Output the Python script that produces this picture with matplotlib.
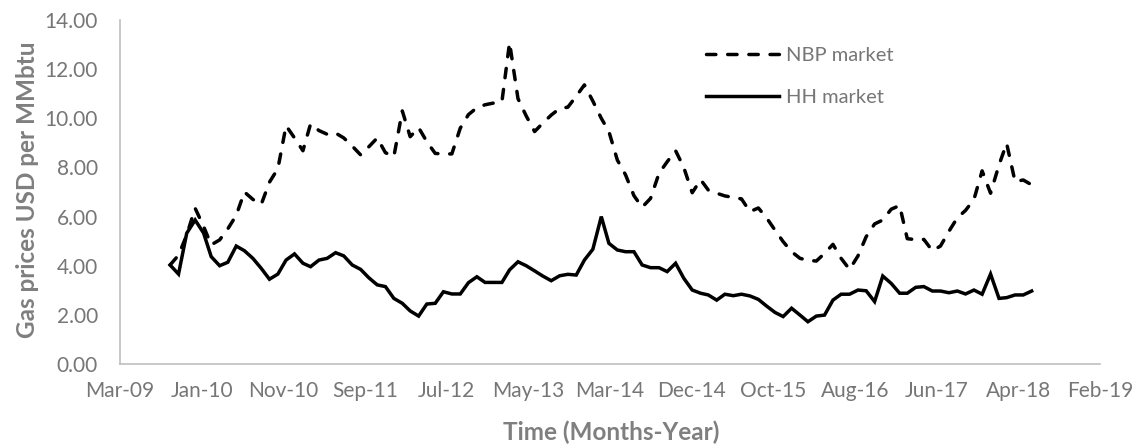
import numpy as np
import pandas as pd
import matplotlib
matplotlib.use('Agg')
import matplotlib.pyplot as plt
import matplotlib.dates as mdates

plt.rcParams['font.family'] = ['Lato', 'DejaVu Sans']

# monthly prices, Oct 2009 - Jun 2018 (USD per MMbtu)
months = pd.date_range('2009-10-01', periods=105, freq='MS')

nbp = [4.03, 4.43, 5.25, 6.34, 5.6, 4.85, 5.05, 5.5, 6.05, 7.0,
       6.7, 6.5, 7.4, 7.95, 9.7, 9.2, 8.68, 9.77, 9.5, 9.35,
       9.4, 9.2, 8.87, 8.51, 8.84, 9.2, 8.6, 8.44, 10.3, 9.25,
       9.62, 9.05, 8.57, 8.55, 8.55, 9.6, 10.15, 10.43, 10.55, 10.62,
       10.68, 13.08, 10.8, 10.1, 9.46, 9.8, 10.13, 10.4, 10.45, 10.9,
       11.36, 10.7, 10.0, 9.46, 8.3, 7.7, 6.85, 6.38, 6.74, 7.76,
       8.23, 8.68, 8.0, 6.97, 7.5, 7.08, 6.95, 6.84, 6.78, 6.72,
       6.2, 6.35, 5.95, 5.45, 4.98, 4.57, 4.3, 4.22, 4.19, 4.5,
       4.87, 4.3, 3.85, 4.4, 5.18, 5.7, 5.86, 6.3, 6.45, 5.1,
       5.06, 5.07, 4.61, 4.8, 5.4, 5.95, 6.25, 6.7, 7.86, 6.95,
       8.1, 8.98, 7.42, 7.49, 7.29]

hh = [4.03, 3.66, 5.32, 5.86, 5.33, 4.37, 4.0, 4.14, 4.8, 4.61,
      4.3, 3.89, 3.45, 3.66, 4.23, 4.48, 4.1, 3.96, 4.23, 4.3,
      4.53, 4.4, 4.03, 3.85, 3.51, 3.22, 3.15, 2.67, 2.47, 2.16,
      1.95, 2.44, 2.47, 2.94, 2.85, 2.85, 3.31, 3.55, 3.32, 3.32,
      3.32, 3.83, 4.16, 4.0, 3.79, 3.58, 3.39, 3.59, 3.65, 3.62,
      4.23, 4.67, 6.0, 4.91, 4.64, 4.57, 4.57, 4.03, 3.92, 3.92,
      3.76, 4.1, 3.49, 3.01, 2.88, 2.81, 2.6, 2.84, 2.78, 2.84,
      2.77, 2.63, 2.36, 2.1, 1.93, 2.27, 1.99, 1.72, 1.95, 1.99,
      2.6, 2.84, 2.84, 3.01, 2.98, 2.54, 3.58, 3.28, 2.88, 2.88,
      3.12, 3.15, 2.97, 2.97, 2.9, 2.97, 2.85, 3.01, 2.84, 3.66,
      2.67, 2.7, 2.81, 2.81, 2.97]

# excel style date axis: ticks every 300 days
x_start = pd.Timestamp('2009-03-31')
x_ticks = [x_start + pd.Timedelta(days=300 * k) for k in range(13)]

tick_col = '#767676'
title_col = '#7f7f7f'

fig = plt.figure(figsize=(11.39, 4.48), dpi=100)
ax = fig.add_axes([120 / 1139, 1 - 364 / 448, 980 / 1139, 344 / 448])

ax.plot(months, nbp, color='black', lw=2.5, linestyle=(0, (2.7, 3.4)),
        dash_capstyle='round', label='NBP market')
ax.plot(months, hh, color='black', lw=2.5, solid_joinstyle='miter',
        label='HH market')

ax.set_xlim(x_ticks[0], x_ticks[-1])
ax.set_ylim(0, 14)
ax.set_xticks(x_ticks)
ax.xaxis.set_major_formatter(mdates.DateFormatter('%b-%y'))
ax.set_yticks(np.arange(0, 15, 2))
ax.yaxis.set_major_formatter(plt.FormatStrFormatter('%.2f'))

for s in ['top', 'right']:
    ax.spines[s].set_visible(False)
for s in ['left', 'bottom']:
    ax.spines[s].set_color('#bfbfbf')
    ax.spines[s].set_linewidth(1.2)

ax.tick_params(axis='both', length=0, labelsize=15, colors=tick_col)
ax.tick_params(axis='y', pad=16)
ax.tick_params(axis='x', pad=12)

fig.text(28 / 1139, 1 - 190 / 448, 'Gas prices USD per MMbtu', rotation=90,
         ha='center', va='center', fontsize=17.5, fontweight='bold', color=title_col)
fig.text(611 / 1139, 1 - 432 / 448, 'Time (Months-Year)',
         ha='center', va='center', fontsize=17.5, fontweight='bold', color=title_col)

leg = fig.legend(loc='center left', bbox_to_anchor=(688 / 1139, 1 - 76.5 / 448),
                 bbox_transform=fig.transFigure, frameon=False, fontsize=14.5,
                 handlelength=3.6, handletextpad=0.35, labelspacing=1.2)
for t in leg.get_texts():
    t.set_color(tick_col)

fig.savefig('out.png', dpi=100)
